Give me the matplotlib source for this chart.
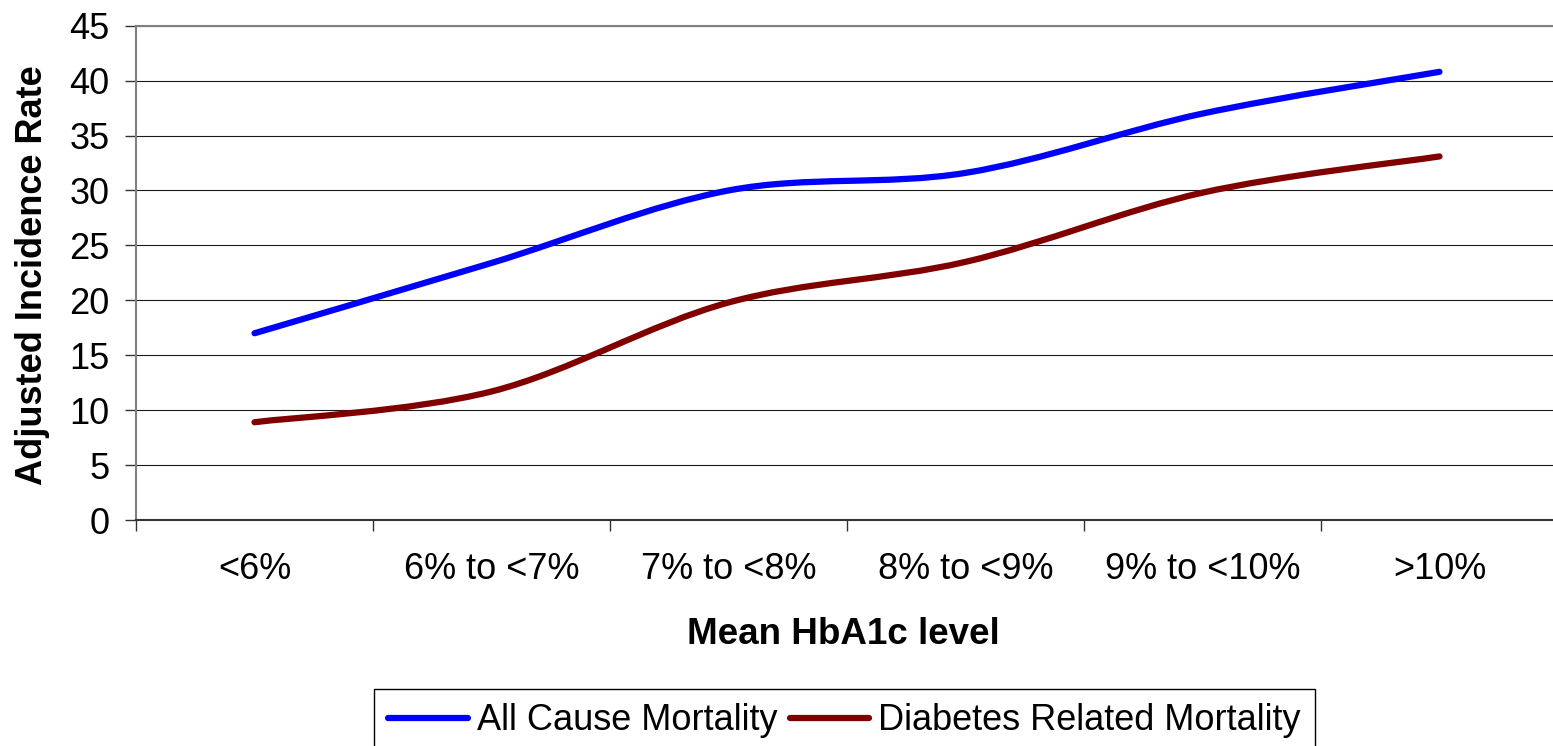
import numpy as np
import matplotlib
matplotlib.use('Agg')
import matplotlib.pyplot as plt
from matplotlib.path import Path
from matplotlib.patches import PathPatch
from matplotlib.lines import Line2D

plt.rcParams['font.family'] = ['Liberation Sans', 'DejaVu Sans']

categories = ['<6%', '6% to <7%', '7% to <8%', '8% to <9%', '9% to <10%', '>10%']
all_cause = [17.0, 23.4, 30.0, 31.6, 37.0, 40.8]
diabetes = [8.9, 11.7, 19.8, 23.5, 29.8, 33.1]
series_names = ['All Cause Mortality', 'Diabetes Related Mortality']
colors = ['#0000ff', '#800000']


def smooth_path(x, y):
    # excel-like smoothed line: bezier segments through every data point
    pts = np.column_stack([x, y]).astype(float)
    padded = np.vstack([pts[0], pts, pts[-1]])
    verts = [pts[0]]
    codes = [Path.MOVETO]
    for i in range(len(pts) - 1):
        p0, p1, p2, p3 = padded[i], padded[i + 1], padded[i + 2], padded[i + 3]
        verts += [p1 + (p2 - p0) / 6, p2 - (p3 - p1) / 6, p2]
        codes += [Path.CURVE4] * 3
    return Path(verts, codes)


W, H = 1553, 746
fig = plt.figure(figsize=(W / 100, H / 100), dpi=100)
ax = fig.add_axes([136 / W, 226 / H, 1422 / W, 494.3 / H])

x = np.arange(len(categories))
for vals, c in zip([all_cause, diabetes], colors):
    ax.add_patch(PathPatch(smooth_path(x, vals), fill=False, edgecolor=c, lw=4.5,
                           capstyle='round', joinstyle='round', zorder=3))

ax.set_xlim(-0.5, 5.5)
ax.set_ylim(0, 45)
ax.set_yticks(range(0, 46, 5))
ax.yaxis.grid(True, color='#1a1a1a', lw=0.8)
ax.set_axisbelow(True)

ax.set_xticks(np.arange(-0.5, 6, 1))
ax.set_xticklabels([])
ax.set_xticks(x, minor=True)
ax.set_xticklabels(categories, minor=True)
ax.tick_params(axis='x', which='minor', length=0, pad=23, labelsize=26)
ax.tick_params(axis='x', which='major', length=8, width=1, color='#333333')
ax.tick_params(axis='y', length=8, width=1, pad=11, labelsize=26, color='#333333')

ax.spines['right'].set_visible(False)
ax.spines['top'].set_color('#808080')
ax.spines['top'].set_linewidth(1.5)
ax.spines['left'].set_color('#808080')
ax.spines['left'].set_linewidth(1.5)
ax.spines['bottom'].set_color('#333333')
ax.spines['bottom'].set_linewidth(1.5)

fig.text(33 / W, 1 - 275 / H, 'Adjusted Incidence Rate', rotation=90,
         ha='center', va='center', fontsize=26, fontweight='bold')
fig.text(843 / W, 1 - 635 / H, 'Mean HbA1c level', ha='center', va='center',
         fontsize=26.5, fontweight='bold')

handles = [Line2D([], [], color=c, lw=4.5, solid_capstyle='round') for c in colors]
leg = fig.legend(handles, series_names, loc='upper center',
                 bbox_to_anchor=(844.5 / W, 57 / H), ncol=2, fontsize=26,
                 frameon=True, fancybox=False, edgecolor='black', framealpha=1,
                 handlelength=2.2, handletextpad=0.25, columnspacing=0.35,
                 borderpad=0.4, borderaxespad=0)
leg.get_frame().set_linewidth(1.0)

fig.savefig('out.png', dpi=100)
